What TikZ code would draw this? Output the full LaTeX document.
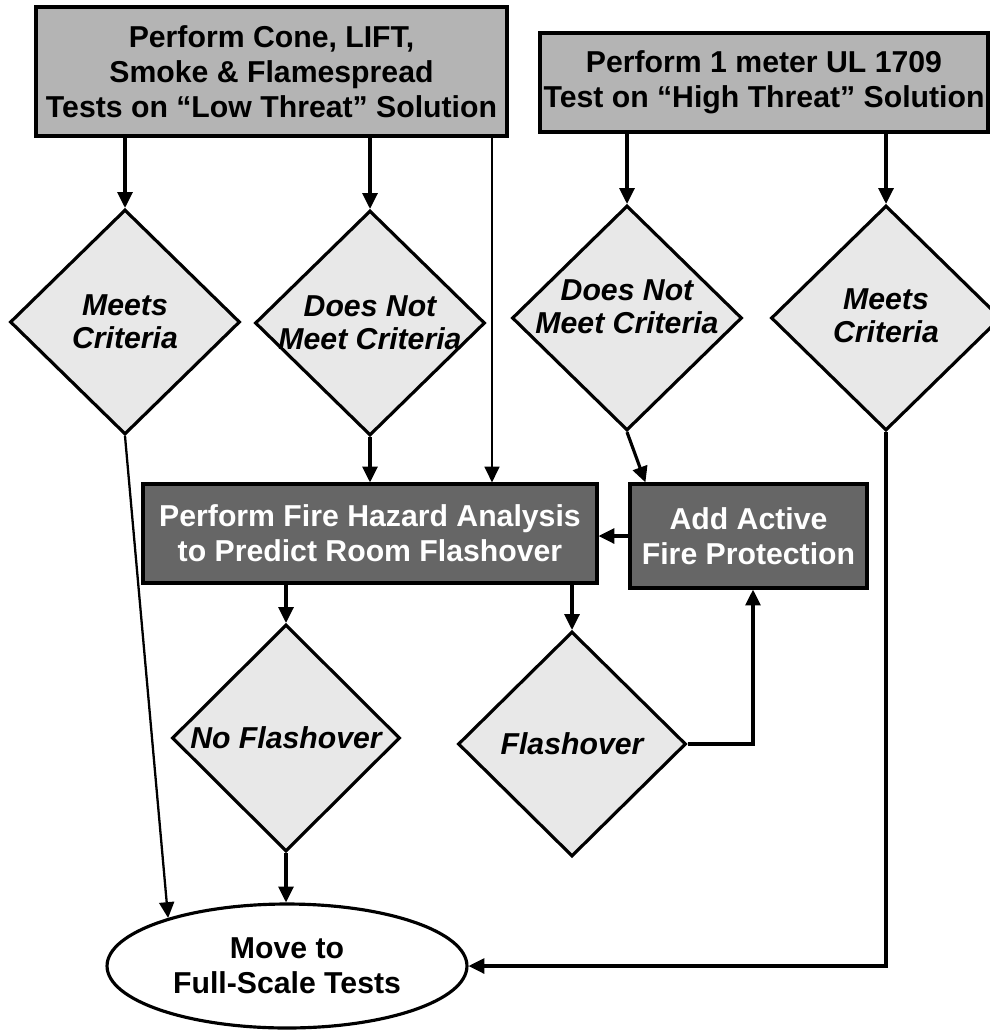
\documentclass[tikz,border=0pt]{standalone}
\usepackage{fontspec}
\setmainfont{Liberation Sans}
\usetikzlibrary{shapes.geometric,arrows.meta}
\definecolor{boxgray}{HTML}{B4B4B4}
\definecolor{diagray}{HTML}{E8E8E8}
\definecolor{darkgray}{HTML}{666666}
\tikzset{
  base/.style={draw=black, line width=1.8pt, align=center, inner sep=0pt,
    font=\fontsize{17.2}{19.8}\selectfont\bfseries},
  topbox/.style={base, rectangle, fill=boxgray},
  darkbox/.style={base, rectangle, fill=darkgray, text=white},
  decision/.style={base, diamond, fill=diagray, minimum width=4.6cm, minimum height=4.5cm},
  dtext/.style={align=center, inner sep=0pt,
    font=\fontsize{17.2}{19}\selectfont\bfseries\itshape},
  terminal/.style={base, ellipse, fill=white, minimum width=7.2cm, minimum height=2.48cm},
  arr/.style={line width=1.8pt, -{Triangle[length=9pt,width=8.5pt]}},
  thinarr/.style={line width=1pt, -{Triangle[length=9pt,width=8.5pt]}},
  midarr/.style={line width=1.3pt, -{Triangle[length=9pt,width=8.5pt]}},
}
\begin{document}
\begin{tikzpicture}[x=0.02cm, y=-0.02cm]
\useasboundingbox (0,0) rectangle (990,1031);

% start boxes
\node[topbox, minimum width=9.42cm, minimum height=2.58cm] (t1) at (271.5,71.5)
  {Perform Cone, LIFT,\\Smoke \& Flamespread\\Tests on “Low Threat” Solution};
\node[topbox, minimum width=8.96cm, minimum height=1.98cm] (t2) at (764,82.5)
  {Perform 1 meter UL 1709\\Test on “High Threat” Solution};

% first-level decisions
\node[decision, label={[dtext]center:{Meets\\Criteria}}] (d1) at (125,322) {};
\node[decision, label={[dtext]center:{Does Not\\Meet Criteria}}] (d2) at (370,323) {};
\node[decision, label={[dtext, yshift=0.22cm]center:{Does Not\\Meet Criteria}}] (d3) at (627,318) {};
\node[decision, label={[dtext, yshift=0.05cm]center:{Meets\\Criteria}}] (d4) at (886,318) {};

% analysis boxes
\node[darkbox, minimum width=9.08cm, minimum height=1.98cm] (fha) at (370,533.5)
  {Perform Fire Hazard Analysis\\to Predict Room Flashover};
\node[darkbox, minimum width=4.74cm, minimum height=2.08cm] (aap) at (748.5,536)
  {Add Active\\Fire Protection};

% flashover decisions
\node[decision, minimum width=4.56cm, minimum height=4.54cm,
  label={[dtext]center:{No Flashover}}] (d5) at (286,738) {};
\node[decision, minimum width=4.56cm, minimum height=4.5cm,
  label={[dtext]center:{Flashover}}] (d6) at (572,744) {};

% end
\node[terminal] (end) at (287,966) {Move to\\Full-Scale Tests};

% helper columns
\coordinate (col1) at (492,0);
\coordinate (col2) at (753,0);

% connectors
\draw[arr] (d1.north |- t1.south) -- (d1.north);
\draw[arr] (d2.north |- t1.south) -- (d2.north);
\draw[thinarr] (col1 |- t1.south) -- (col1 |- fha.north);
\draw[arr] (d3.north |- t2.south) -- (d3.north);
\draw[arr] (d4.north |- t2.south) -- (d4.north);
\draw[midarr] (d1.south) -- (end.158);
\draw[arr] (d2.south) -- (d2.south |- fha.north);
\draw[arr] (d3.south) -- ([xshift=0.34cm]aap.north west);
\draw[arr] (aap.west) -- (aap.west -| fha.east);
\draw[arr] (d5.north |- fha.south) -- (d5.north);
\draw[arr] (d6.north |- fha.south) -- (d6.north);
\draw[arr] (d6.east) -| (col2 |- aap.south);
\draw[arr] (d5.south) -- (d5.south |- end.north);
\draw[arr] (d4.south) |- (end.east);
\end{tikzpicture}
\end{document}
